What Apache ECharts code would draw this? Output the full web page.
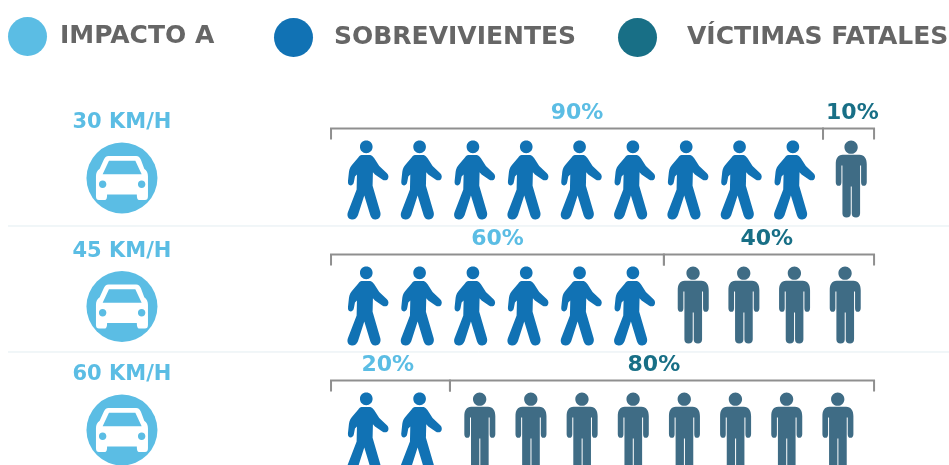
<!DOCTYPE html>
<html>
<head>
<meta charset="utf-8">
<style>
  html, body { margin: 0; padding: 0; background: #fff; }
  #main { width: 949px; height: 465px; }
</style>
<script src="https://cdn.jsdelivr.net/npm/echarts@6/dist/echarts.min.js"></script>
</head>
<body>
<div id="main"></div>
<script>
// datos
var velocidades = ['30 KM/H', '45 KM/H', '60 KM/H'];
var sobrevivientes = [9, 6, 2];
var fatales = [1, 4, 8];
var pctSobrevivientes = [90, 60, 20];
var pctFatales = [10, 40, 80];

// colocacion en unidades del eje x (0 a 100 = ancho de las llaves)
var cortes = [90.6, 61.3, 21.9];
var inicioFatales = [95.8, 66.7, 27.4];
var pasoFatales = [9.4, 9.33, 9.42];
var inicioSobrev = 6.8;
var pasoSobrev = 9.82;
var xAuto = -38.5;
var filaAuto = [-0.016, 1.004, 1.984];
var ajusteEtiqueta = [[0, 0.7], [0, -0.4], [-0.5, -1.5]];

var AZUL_CLARO = '#5BBDE4';
var AZUL = '#1172B4';
var VERDE = '#186F86';
var GRIS_PERSONA = '#3F6C85';
var FUENTE = '"DejaVu Sans", sans-serif';

var caminante = 'path://M124 139C135 139 143 147 143 158C143 169 135 177 124 177C113 177 105 169 105 158C105 147 113 139 124 139Z' +
  'M110 182L136 182C141 183 145 187 148 192L163 215L186 237C192 242 192 252 187 256C182 259 176 258 172 255L150 240L144 234L143 274L166 352C169 362 164 372 155 374C146 376 139 372 136 362L118 303L99 362C95 372 87 376 78 374C69 372 65 362 69 352L95 285L96 240L90 246L87 262C86 270 81 273 77 273C71 273 68 268 69 260L72 232C73 222 78 214 84 208L100 190C103 185 106 183 110 182Z';

var parado = 'path://M273 137C284 137 293 146 293 157C293 168 284 177 273 177C262 177 253 168 253 157C253 146 262 137 273 137Z' +
  'M248 180L298 180C313 180 320 192 320 208L320 262C320 269 316 273 311 273C306 273 303 269 303 262L303 212L300 212L300 356C300 364 295 368 288 368C279 368 275 364 275 356L275 275L272 275L272 356C272 364 268 368 259 368C252 368 247 364 247 356L247 212L244 212L244 262C244 269 241 273 236 273C231 273 227 269 227 262L227 208C227 192 233 180 248 180Z';

var auto = 'path://M122 165L196 165C203 165 206 169 209 175L218 200C225 205 228 212 228 220L228 275C228 283 225 285 220 285L204 285C200 285 198 280 198 270L118 270C118 280 116 285 112 285L96 285C91 285 88 283 88 275L88 220C88 212 91 205 98 200L109 175C112 169 115 165 122 165Z' +
  'M123 178L106 215L211 215L194 178Z' +
  'M106 232C100 232 96 236 96 242C96 248 100 252 106 252C112 252 116 248 116 242C116 236 112 232 106 232Z' +
  'M211 232C205 232 201 236 201 242C201 248 205 252 211 252C217 252 221 248 221 242C221 236 217 232 211 232Z';

function puntos(cantidades, inicio, paso) {
  var res = [];
  cantidades.forEach(function (n, fila) {
    for (var i = 0; i < n; i++) {
      var x0 = Array.isArray(inicio) ? inicio[fila] : inicio;
      var p = Array.isArray(paso) ? paso[fila] : paso;
      res.push([x0 + i * p, fila]);
    }
  });
  return res;
}

var filasAuto = velocidades.map(function (v, i) { return [xAuto, filaAuto[i], v]; });

// tramos de las llaves: inicio, fin, fila, texto, color
var tramos = [];
velocidades.forEach(function (v, i) {
  tramos.push([0, cortes[i], i, pctSobrevivientes[i] + '%', 0, ajusteEtiqueta[i][0]]);
  tramos.push([cortes[i], 100, i, pctFatales[i] + '%', 1, ajusteEtiqueta[i][1]]);
});
var coloresTramo = [AZUL_CLARO, VERDE];

var separadores = [0.365, 1.365];

var option = {
  animation: false,
  backgroundColor: '#fff',
  grid: { left: 0, right: 0, top: 54, height: 378 },
  xAxis: { type: 'value', min: -60.96, max: 113.8, show: false },
  yAxis: { type: 'value', min: -1, max: 2, inverse: true, show: false },
  legend: [
    { data: ['IMPACTO A'], left: 8, top: 17, pad: 8 },
    { data: ['SOBREVIVIENTES'], left: 274, top: 18, pad: 16 },
    { data: ['VÍCTIMAS FATALES'], left: 618, top: 18, pad: 25 }
  ].map(function (l) {
    return {
      data: l.data,
      left: l.left,
      top: l.top,
      padding: 0,
      icon: 'circle',
      itemWidth: 39,
      itemHeight: 39,
      selectedMode: false,
      textStyle: { color: '#666', fontFamily: FUENTE, fontWeight: 'bold', fontSize: 25, padding: [7, 0, 0, l.pad] }
    };
  }),
  series: [
    {
      type: 'custom',
      silent: true,
      clip: false,
      coordinateSystem: 'cartesian2d',
      data: separadores.map(function (y) { return [y]; }),
      renderItem: function (params, api) {
        var p = api.coord([0, api.value(0)]);
        return {
          type: 'line',
          shape: { x1: 8, y1: p[1], x2: 949, y2: p[1] },
          style: { stroke: '#E3EDF1', lineWidth: 1 }
        };
      }
    },
    {
      type: 'custom',
      silent: true,
      clip: false,
      data: tramos,
      renderItem: function (params, api) {
        var a = api.coord([api.value(0), api.value(2)]);
        var b = api.coord([api.value(1), api.value(2)]);
        var y = a[1] - 51.5;
        var centro = api.coord([(api.value(0) + api.value(1)) / 2 + api.value(5), api.value(2)]);
        return {
          type: 'group',
          children: [
            {
              type: 'polyline',
              shape: { points: [[a[0], y + 11], [a[0], y], [b[0], y], [b[0], y + 11]] },
              style: { stroke: '#8F8F8F', lineWidth: 2, fill: null }
            },
            {
              type: 'text',
              x: centro[0],
              y: y - 15,
              style: {
                text: tramos[params.dataIndex][3],
                fill: coloresTramo[api.value(4)],
                fontFamily: FUENTE,
                fontWeight: 'bold',
                fontSize: 22,
                textAlign: 'center',
                textVerticalAlign: 'middle'
              }
            }
          ]
        };
      }
    },
    {
      name: 'IMPACTO A',
      type: 'scatter',
      silent: true,
      clip: false,
      symbol: 'circle',
      symbolSize: 71,
      itemStyle: { color: AZUL_CLARO, opacity: 1 },
      label: {
        show: true,
        position: 'top',
        distance: 9,
        color: AZUL_CLARO,
        fontFamily: FUENTE,
        fontWeight: 'bold',
        fontSize: 21,
        formatter: function (p) { return p.value[2]; }
      },
      data: filasAuto
    },
    {
      type: 'scatter',
      silent: true,
      clip: false,
      symbol: auto,
      symbolSize: [52, 44],
      itemStyle: { color: '#fff', opacity: 1 },
      data: filasAuto
    },
    {
      name: 'SOBREVIVIENTES',
      type: 'scatter',
      silent: true,
      clip: false,
      symbol: caminante,
      symbolSize: [41, 79],
      itemStyle: { color: AZUL, opacity: 1 },
      data: puntos(sobrevivientes, inicioSobrev, pasoSobrev)
    },
    {
      name: 'VÍCTIMAS FATALES',
      type: 'scatter',
      silent: true,
      clip: false,
      symbol: parado,
      symbolSize: [31, 77],
      itemStyle: { color: VERDE, opacity: 1 },
      data: []
    },
    {
      type: 'scatter',
      silent: true,
      clip: false,
      symbol: parado,
      symbolSize: [31, 77],
      symbolOffset: [0, -1],
      itemStyle: { color: GRIS_PERSONA, opacity: 1 },
      data: puntos(fatales, inicioFatales, pasoFatales)
    }
  ]
};

var chart = echarts.init(document.getElementById('main'), null, { renderer: 'canvas' });
chart.setOption(option);
</script>
</body>
</html>
